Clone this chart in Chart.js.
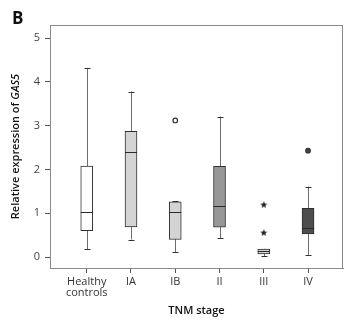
<!DOCTYPE html>
<html lang="en">
<head>
  <meta charset="UTF-8" />
  <title>GAS5 expression by TNM stage</title>
  <script src="https://cdn.jsdelivr.net/npm/chart.js"></script>
  <style>
    body {
      margin: 0;
      padding: 0;
      background: #fff;
      font-family: 'Open Sans', sans-serif;
    }
    .wrap {
      position: relative;
      width: 364px;
      height: 322px;
    }
    .panel {
      position: absolute;
      left: 12px;
      top: 6px;
      font: 700 17px 'Open Sans', sans-serif;
      color: #111;
    }
    canvas {
      display: block;
    }
  </style>
</head>
<body>
  <div class="wrap">
    <canvas id="boxChart" width="364" height="322"></canvas>
    <div class="panel">B</div>
  </div>

  <script>
    // box plot summaries per group
    const stages = ['Healthy controls', 'IA', 'IB', 'II', 'III', 'IV'];
    const whiskerLow  = [0.18, 0.40, 0.11, 0.43, 0.02, 0.05];
    const q1          = [0.60, 0.69, 0.40, 0.68, 0.07, 0.53];
    const median      = [1.02, 2.39, 1.02, 1.16, 0.13, 0.66];
    const q3          = [2.08, 2.87, 1.26, 2.07, 0.18, 1.11];
    const whiskerHigh = [4.32, 3.78, 1.27, 3.21, 0.19, 1.61];
    const outliers    = [[], [], [3.12], [], [1.20, 0.56], [2.43]];
    const yTicks = [0, 1, 2, 3, 4, 5];

    // small filled star for extreme values
    const star = document.createElement('canvas');
    star.width = 8;
    star.height = 8;
    (function () {
      const c = star.getContext('2d');
      c.fillStyle = '#222';
      c.beginPath();
      for (let k = 0; k < 10; k++) {
        const r = k % 2 === 0 ? 3.8 : 1.6;
        const ang = -Math.PI / 2 + k * Math.PI / 5;
        const px = 4 + r * Math.cos(ang);
        const py = 4.3 + r * Math.sin(ang);
        k === 0 ? c.moveTo(px, py) : c.lineTo(px, py);
      }
      c.closePath();
      c.fill();
    })();

    const boxFill = ['#ffffff', '#d4d4d4', '#d4d4d4', '#979797', '#d4d4d4', '#4d4d4d'];
    const outlierStyle = ['circle', 'circle', 'circle', 'circle', star, 'circle'];
    const outlierFill = ['#fff', '#fff', '#fff', '#fff', '#222', '#444'];

    const boxData = stages.map((s, i) => ({ x: i, y: [q1[i], q3[i]] }));
    const outlierData = [];
    const outlierShapes = [];
    const outlierBg = [];
    outliers.forEach((list, i) => {
      list.forEach(v => {
        outlierData.push({ x: i, y: v });
        outlierShapes.push(outlierStyle[i]);
        outlierBg.push(outlierFill[i]);
      });
    });

    const boxPlotPlugin = {
      id: 'boxPlot',
      beforeDatasetsDraw(chart) {
        const { ctx, chartArea: a, scales: { x, y } } = chart;
        ctx.save();
        // frame around the plot area
        ctx.strokeStyle = '#8a8a8a';
        ctx.lineWidth = 1;
        ctx.strokeRect(a.left + 0.5, a.top + 0.5, a.right - a.left - 1, a.bottom - a.top);
        // whiskers
        stages.forEach((s, i) => {
          const px = Math.round(x.getPixelForValue(i)) + 0.5;
          const lo = y.getPixelForValue(whiskerLow[i]);
          const hi = y.getPixelForValue(whiskerHigh[i]);
          ctx.strokeStyle = '#6e6e6e';
          ctx.beginPath();
          ctx.moveTo(px, lo);
          ctx.lineTo(px, hi);
          ctx.stroke();
          ctx.strokeStyle = '#333';
          ctx.beginPath();
          ctx.moveTo(px - 3, Math.round(lo) + 0.5);
          ctx.lineTo(px + 3, Math.round(lo) + 0.5);
          ctx.moveTo(px - 3, Math.round(hi) + 0.5);
          ctx.lineTo(px + 3, Math.round(hi) + 0.5);
          ctx.stroke();
        });
        ctx.restore();
      },
      afterDatasetsDraw(chart) {
        const { ctx, scales: { x, y } } = chart;
        ctx.save();
        ctx.strokeStyle = '#2a2a2a';
        ctx.lineWidth = 1;
        stages.forEach((s, i) => {
          const px = x.getPixelForValue(i);
          const py = Math.round(y.getPixelForValue(median[i])) + 0.5;
          ctx.beginPath();
          ctx.moveTo(px - 6, py);
          ctx.lineTo(px + 6, py);
          ctx.stroke();
        });
        ctx.restore();
      },
      afterDraw(chart) {
        const { ctx, chartArea: a } = chart;
        ctx.save();
        ctx.fillStyle = '#111';
        ctx.textBaseline = 'middle';
        // x axis title
        ctx.font = "600 11px 'Open Sans', sans-serif";
        ctx.textAlign = 'center';
        ctx.fillText('TNM stage', (a.left + a.right) / 2, 311);
        // y axis title with italic gene name
        const plain = 'Relative expression of ';
        const gene = 'GAS5';
        ctx.translate(16, (a.top + a.bottom) / 2);
        ctx.rotate(-Math.PI / 2);
        ctx.font = "600 11px 'Open Sans', sans-serif";
        const w1 = ctx.measureText(plain).width;
        ctx.font = "italic 600 11px 'Open Sans', sans-serif";
        const w2 = ctx.measureText(gene).width;
        let start = -(w1 + w2) / 2;
        ctx.textAlign = 'left';
        ctx.font = "600 11px 'Open Sans', sans-serif";
        ctx.fillText(plain, start, 0);
        ctx.font = "italic 600 11px 'Open Sans', sans-serif";
        ctx.fillText(gene, start + w1, 0);
        ctx.restore();
      }
    };

    new Chart(document.getElementById('boxChart'), {
      data: {
        datasets: [
          {
            type: 'bar',
            data: boxData,
            backgroundColor: boxFill,
            borderColor: '#2e2e2e',
            borderWidth: 1,
            borderSkipped: false,
            barThickness: 12
          },
          {
            type: 'scatter',
            data: outlierData,
            pointStyle: outlierShapes,
            pointRadius: 2.3,
            pointBackgroundColor: outlierBg,
            pointBorderColor: '#333',
            pointBorderWidth: 1.2
          }
        ]
      },
      options: {
        responsive: false,
        animation: false,
        layout: { padding: { top: 25, right: 21, left: 0, bottom: 0 } },
        plugins: {
          legend: { display: false },
          tooltip: { enabled: false }
        },
        scales: {
          x: {
            type: 'linear',
            min: -0.83,
            max: 5.79,
            offset: false,
            afterBuildTicks: (scale) => { scale.ticks = stages.map((s, i) => ({ value: i })); },
            afterFit: (scale) => { scale.height = 54; },
            grid: { offset: false, drawOnChartArea: false, drawTicks: true, tickLength: 5, color: '#555' },
            border: { display: true, color: '#8a8a8a' },
            ticks: {
              padding: 3,
              maxRotation: 0,
              autoSkip: false,
              color: '#333',
              font: { family: "'Open Sans', sans-serif", size: 11, lineHeight: 1.05 },
              callback: (v) => {
                const label = stages[v];
                return label && label.includes(' ') ? label.split(' ') : label;
              }
            }
          },
          y: {
            type: 'linear',
            min: -0.25,
            max: 5.3,
            afterBuildTicks: (scale) => { scale.ticks = yTicks.map(v => ({ value: v })); },
            afterFit: (scale) => { scale.width = 50; },
            grid: { drawOnChartArea: false, drawTicks: true, tickLength: 5, color: '#555' },
            border: { display: true, color: '#8a8a8a' },
            ticks: {
              padding: 5,
              color: '#444',
              font: { family: "'Open Sans', sans-serif", size: 11 }
            }
          }
        }
      },
      plugins: [boxPlotPlugin]
    });
  </script>
</body>
</html>
